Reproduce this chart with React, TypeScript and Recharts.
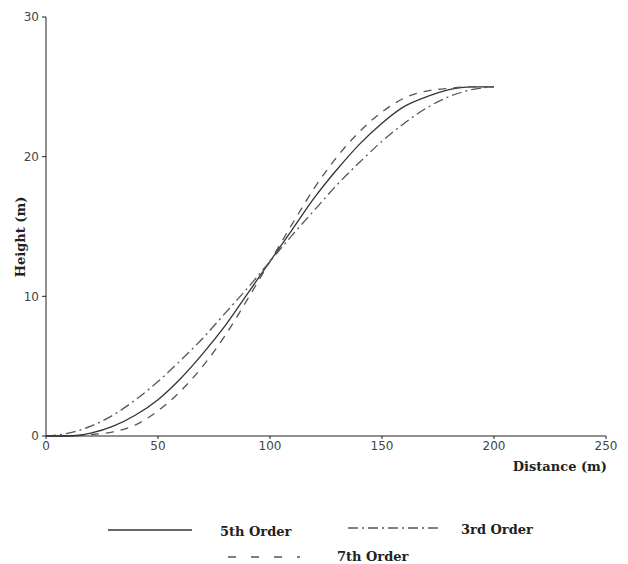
import React from 'react';
import { LineChart, Line, XAxis, YAxis, Legend } from 'recharts';

// values (distance in m, height in m)
const distance = [0, 10, 20, 30, 40, 50, 60, 70, 80, 90, 100, 110, 120, 130, 140, 150, 160, 170, 180, 190, 200];
const fifthOrder = [0, 0, 0.2, 0.7, 1.5, 2.6, 4.1, 5.9, 7.9, 10.2, 12.5, 14.8, 17.1, 19.1, 20.9, 22.4, 23.6, 24.3, 24.8, 25, 25];
const thirdOrder = [0, 0.2, 0.7, 1.5, 2.6, 3.9, 5.4, 7.0, 8.8, 10.6, 12.5, 14.4, 16.2, 18.0, 19.6, 21.1, 22.4, 23.5, 24.3, 24.8, 25];
const seventhOrder = [0, 0, 0.1, 0.3, 0.8, 1.8, 3.2, 5.0, 7.2, 9.8, 12.5, 15.2, 17.8, 20.0, 21.8, 23.2, 24.2, 24.7, 24.9, 25, 25];

const xTicks = [0, 50, 100, 150, 200, 250];
const yTicks = [0, 10, 20, 30];

const data = distance.map((d, i) => ({
  distance: d,
  fifth: fifthOrder[i],
  third: thirdOrder[i],
  seventh: seventhOrder[i],
}));

const titleFont = { fontFamily: '"DejaVu Serif", serif', fontWeight: 700, fontSize: 13, fill: '#222' };
const tickStyle = { fontFamily: '"DejaVu Sans", sans-serif', fontSize: 12, fill: '#444' };

const renderLegend = () => (
  <svg width={628} height={51} style={{ overflow: 'visible', display: 'block' }}>
    <line x1={108} x2={192} y1={17} y2={17} stroke="#333" strokeWidth={1.3} />
    <text x={220} y={23} style={titleFont}>5th Order</text>
    <line x1={348} x2={440} y1={15} y2={15} stroke="#555" strokeWidth={1.3} strokeDasharray="10 4 2 4" />
    <text x={461} y={21} style={titleFont}>3rd Order</text>
    <line x1={228} x2={300} y1={44} y2={44} stroke="#555" strokeWidth={1.3} strokeDasharray="8 15" />
    <text x={337} y={48} style={titleFont}>7th Order</text>
  </svg>
);

const App: React.FC = () => {
  return (
    <div style={{ position: 'absolute', left: 0, top: 0 }}>
      <LineChart width={628} height={564} data={data} margin={{ top: 17, right: 22, left: 16, bottom: 92 }}>
        <XAxis
          type="number"
          dataKey="distance"
          domain={[0, 250]}
          ticks={xTicks}
          height={36}
          tickSize={3}
          tickMargin={2}
          stroke="#222"
          tick={tickStyle}
          label={{
            content: () => (
              <text x={607} y={471} textAnchor="end" style={titleFont}>
                Distance (m)
              </text>
            ),
          }}
        />
        <YAxis
          type="number"
          domain={[0, 30]}
          ticks={yTicks}
          width={30}
          tickSize={4}
          tickMargin={3}
          stroke="#222"
          tick={tickStyle}
          label={{
            content: () => (
              <text x={20} y={237} transform="rotate(-90 20 237)" textAnchor="middle" dominantBaseline="central" style={titleFont}>
                Height (m)
              </text>
            ),
          }}
        />
        <Legend
          layout="horizontal"
          verticalAlign="middle"
          align="center"
          wrapperStyle={{ top: 513, left: 0, width: 628, height: 51 }}
          content={renderLegend}
        />
        <Line type="monotone" dataKey="fifth" name="5th Order" stroke="#333" strokeWidth={1.3} dot={false} isAnimationActive={false} />
        <Line type="monotone" dataKey="third" name="3rd Order" stroke="#555" strokeWidth={1.3} strokeDasharray="10 4 2 4" dot={false} isAnimationActive={false} />
        <Line type="monotone" dataKey="seventh" name="7th Order" stroke="#555" strokeWidth={1.3} strokeDasharray="8 7" dot={false} isAnimationActive={false} />
      </LineChart>
    </div>
  );
};

export default App;
